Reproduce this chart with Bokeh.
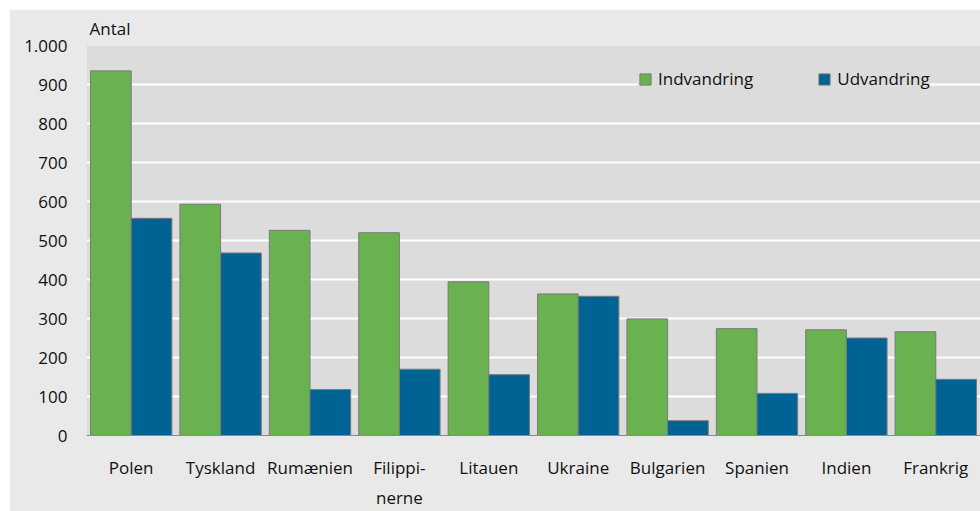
from bokeh.plotting import figure
from bokeh.models import ColumnDataSource, FactorRange, FixedTicker, Legend, LegendItem
from bokeh.transform import dodge
from bokeh.embed import file_html
from bokeh.resources import INLINE

countries = ["Polen", "Tyskland", "Rumænien", "Filippi-\nnerne", "Litauen",
             "Ukraine", "Bulgarien", "Spanien", "Indien", "Frankrig"]
indvandring = [935, 593, 526, 520, 394, 363, 299, 274, 271, 266]
udvandring = [557, 468, 118, 170, 156, 357, 38, 108, 250, 144]
yticks = [0, 100, 200, 300, 400, 500, 600, 700, 800, 900, 1000]
ytick_labels = ["0", "100", "200", "300", "400", "500", "600", "700", "800", "900", "1.000"]

FONT = "Open Sans"
GREEN = "#6ab24f"
BLUE = "#006394"

src = ColumnDataSource(dict(c=countries, ind=indvandring, ud=udvandring))

p = figure(x_range=FactorRange(factors=countries, range_padding=0),
           y_range=(0, 1000), frame_width=894, frame_height=390,
           output_backend="svg", toolbar_location=None,
           min_border_left=77, min_border_right=0, min_border_top=32, min_border_bottom=76,
           title="Antal")
p.margin = (9, 0, 0, 9)

p.background_fill_color = "#dcdcdc"
p.border_fill_color = "#e9e9e9"
p.outline_line_color = None

r1 = p.vbar(x=dodge("c", -0.2275, range=p.x_range), top="ind", width=0.455, source=src,
            fill_color=GREEN, line_color="#7a7a7a", line_width=1)
r2 = p.vbar(x=dodge("c", 0.2275, range=p.x_range), top="ud", width=0.455, source=src,
            fill_color=BLUE, line_color="#7a7a7a", line_width=1)

# title used as the unit label
p.title.align = "left"
p.title.offset = 3
p.title.standoff = 11
p.title.text_font = FONT
p.title.text_font_size = "17px"
p.title.text_font_style = "normal"
p.title.text_color = "#111111"

# grid
p.xgrid.grid_line_color = None
p.ygrid.grid_line_color = "white"
p.ygrid.grid_line_width = 2
p.ygrid.level = "underlay"

# y axis
p.yaxis.ticker = FixedTicker(ticks=yticks)
p.yaxis.major_label_overrides = {t: l for t, l in zip(yticks, ytick_labels)}
p.yaxis.axis_line_color = None
p.yaxis.major_tick_line_color = None
p.yaxis.minor_tick_line_color = None
p.yaxis.major_label_standoff = 13
p.yaxis.major_label_text_font = FONT
p.yaxis.major_label_text_font_size = "17px"
p.yaxis.major_label_text_color = "#111111"

# x axis
p.xaxis.axis_line_color = "#8a8a8a"
p.xaxis.axis_line_width = 1
p.xaxis.major_tick_line_color = None
p.xaxis.minor_tick_line_color = None
p.xaxis.major_label_standoff = 14
p.xaxis.major_label_text_font = FONT
p.xaxis.major_label_text_font_size = "17px"
p.xaxis.major_label_text_color = "#111111"
p.xaxis.major_label_text_line_height = 1.33

# legend
legend = Legend(items=[LegendItem(label="Indvandring", renderers=[r1]),
                       LegendItem(label="Udvandring", renderers=[r2])],
                orientation="horizontal", location=(552, 345),
                background_fill_color="#dcdcdc", background_fill_alpha=1,
                border_line_color=None, padding=10, spacing=64,
                glyph_width=14, glyph_height=14, label_standoff=6,
                label_text_font=FONT, label_text_font_size="17px",
                label_text_color="#111111", margin=0)
p.add_layout(legend, "center")

open("out.html", "w").write(file_html(p, INLINE))
